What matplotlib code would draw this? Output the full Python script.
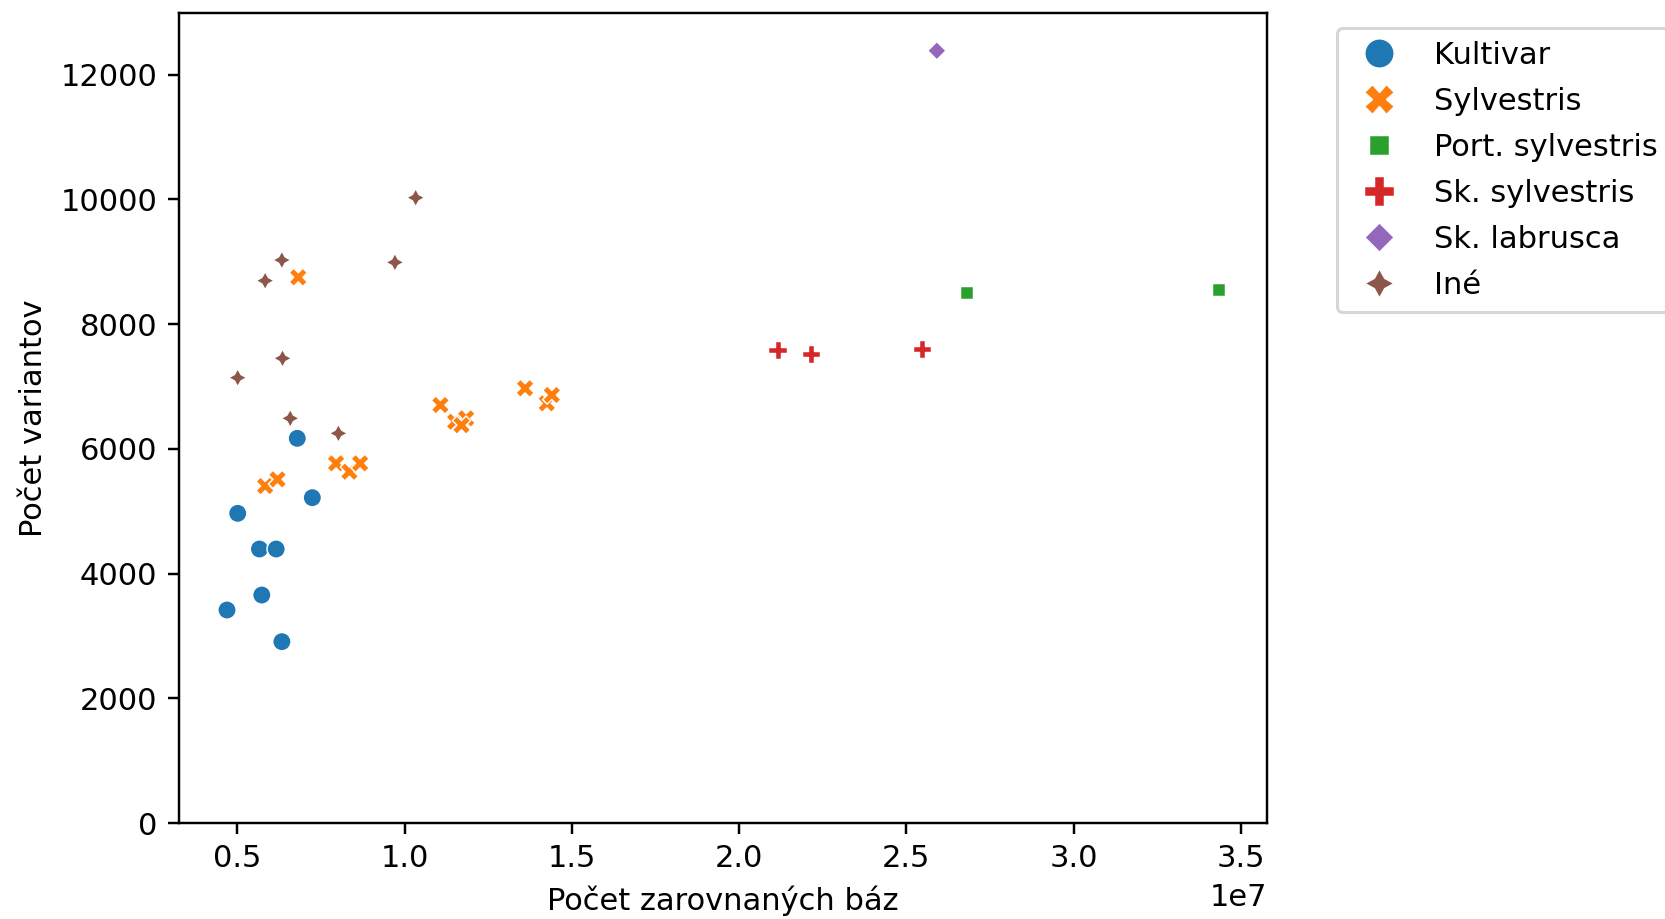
import numpy as np
import pandas as pd
import matplotlib
matplotlib.use("Agg")
import matplotlib.pyplot as plt
import seaborn as sns

# aligned bases (x 1e7) and variant counts, per group
kultivar_x = [0.679, 0.724, 0.501, 0.566, 0.616, 0.573, 0.469, 0.633]
kultivar_y = [6169, 5217, 4966, 4394, 4394, 3656, 3416, 2908]

sylv_x = [0.682, 0.583, 0.620, 0.795, 0.835, 0.867, 1.107, 1.151, 1.184, 1.170, 1.360, 1.425, 1.440]
sylv_y = [8751, 5404, 5511, 5768, 5634, 5768, 6703, 6435, 6490, 6380, 6971, 6730, 6864]

port_x = [2.680, 3.434]
port_y = [8515, 8552]

sk_sylv_x = [2.115, 2.214, 2.546]
sk_sylv_y = [7585, 7521, 7601]

sk_lab_x = [2.591]
sk_lab_y = [12385]

ine_x = [1.033, 0.633, 0.583, 0.971, 0.635, 0.501, 0.658, 0.802]
ine_y = [10028, 9028, 8697, 8991, 7452, 7141, 6490, 6249]

groups = ["Kultivar", "Sylvestris", "Port. sylvestris", "Sk. sylvestris", "Sk. labrusca", "Iné"]
xs = [kultivar_x, sylv_x, port_x, sk_sylv_x, sk_lab_x, ine_x]
ys = [kultivar_y, sylv_y, port_y, sk_sylv_y, sk_lab_y, ine_y]

rows = []
for g, gx, gy in zip(groups, xs, ys):
    for a, b in zip(gx, gy):
        rows.append((a * 1e7, b, g))
df = pd.DataFrame(rows, columns=["Počet zarovnaných báz", "Počet variantov", "Skupina"])

dpi = 220
fig = plt.figure(figsize=(1665 / dpi, 919 / dpi), dpi=dpi)
ax = fig.add_axes([178.5 / 1665, 1 - 823 / 919, (1267 - 178.5) / 1665, (823 - 13) / 919])

sns.scatterplot(data=df, x="Počet zarovnaných báz", y="Počet variantov",
                hue="Skupina", style="Skupina", hue_order=groups, style_order=groups, ax=ax)

ax.set_xlim(0.324e7, 3.578e7)
ax.set_ylim(0, 12990)
plt.legend(bbox_to_anchor=(1.05, 1), loc=2, markerscale=1.6, labelspacing=0.56)

fig.savefig("out.png", dpi=dpi)
